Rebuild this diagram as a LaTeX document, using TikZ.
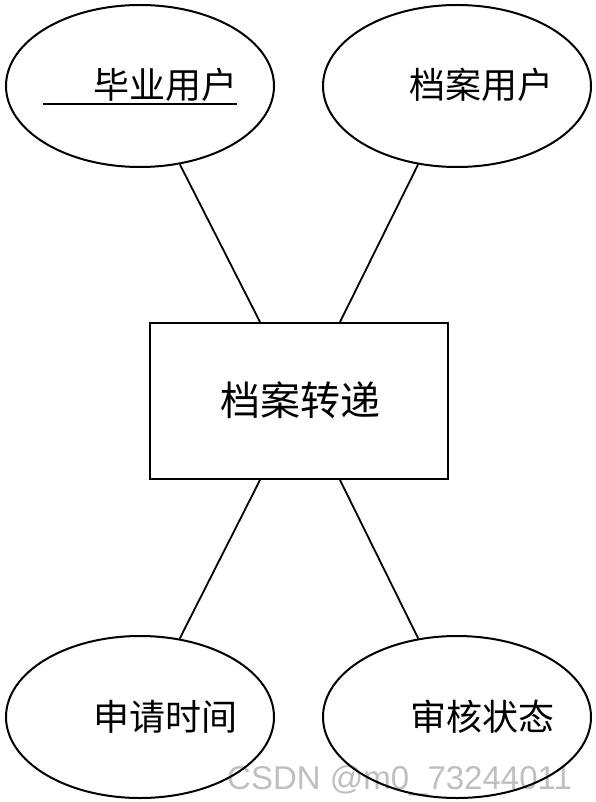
\documentclass[tikz,border=0pt]{standalone}
\usepackage{fontspec}
\newfontfamily\cjk{Noto Sans CJK SC}
\newfontfamily\wmfont{Liberation Sans}
\usetikzlibrary{shapes.geometric}
\begin{document}
\begin{tikzpicture}[x=1pt,y=-1pt,
  ell/.style={draw,ellipse,line width=2pt,minimum width=268pt,minimum height=162pt,inner sep=0pt},
  entbox/.style={draw,rectangle,line width=2pt,minimum width=298pt,minimum height=156pt,inner sep=0pt},
  lbl/.style={font=\cjk\fontsize{36}{40}\selectfont,inner sep=0pt},
  conn/.style={line width=1.8pt}]
\useasboundingbox (0,0) rectangle (596,802);
\node[font=\wmfont\fontsize{33}{36}\selectfont,text=black!25,anchor=base west,inner sep=0pt] (wm) at (227,789) {CSDN @m0\_73244011};
\node[ell] (ul) at (140,86) {};
\node[ell] (ur) at (457,86) {};
\node[ell] (bl) at (140,717) {};
\node[ell] (br) at (457,717) {};
\node[entbox] (r) at (299,401) {};
\node[lbl] (t1) at (165,85) {毕业用户};
\node[lbl] (t2) at (481,85) {档案用户};
\node[lbl] (t3) at (165,717) {申请时间};
\node[lbl] (t4) at (482,717) {审核状态};
\node[font=\cjk\fontsize{40}{44}\selectfont,inner sep=0pt] (tc) at (300,400) {档案转递};
\draw[line width=1.5pt] ([xshift=-50pt,yshift=-2pt]t1.south west) -- ([yshift=-2pt]t1.south east);
\draw[conn] ([xshift=-39pt]r.north) -- (ul);
\draw[conn] ([xshift=41pt]r.north) -- (ur);
\draw[conn] ([xshift=-39pt]r.south) -- (bl);
\draw[conn] ([xshift=41pt]r.south) -- (br);
\end{tikzpicture}
\end{document}
